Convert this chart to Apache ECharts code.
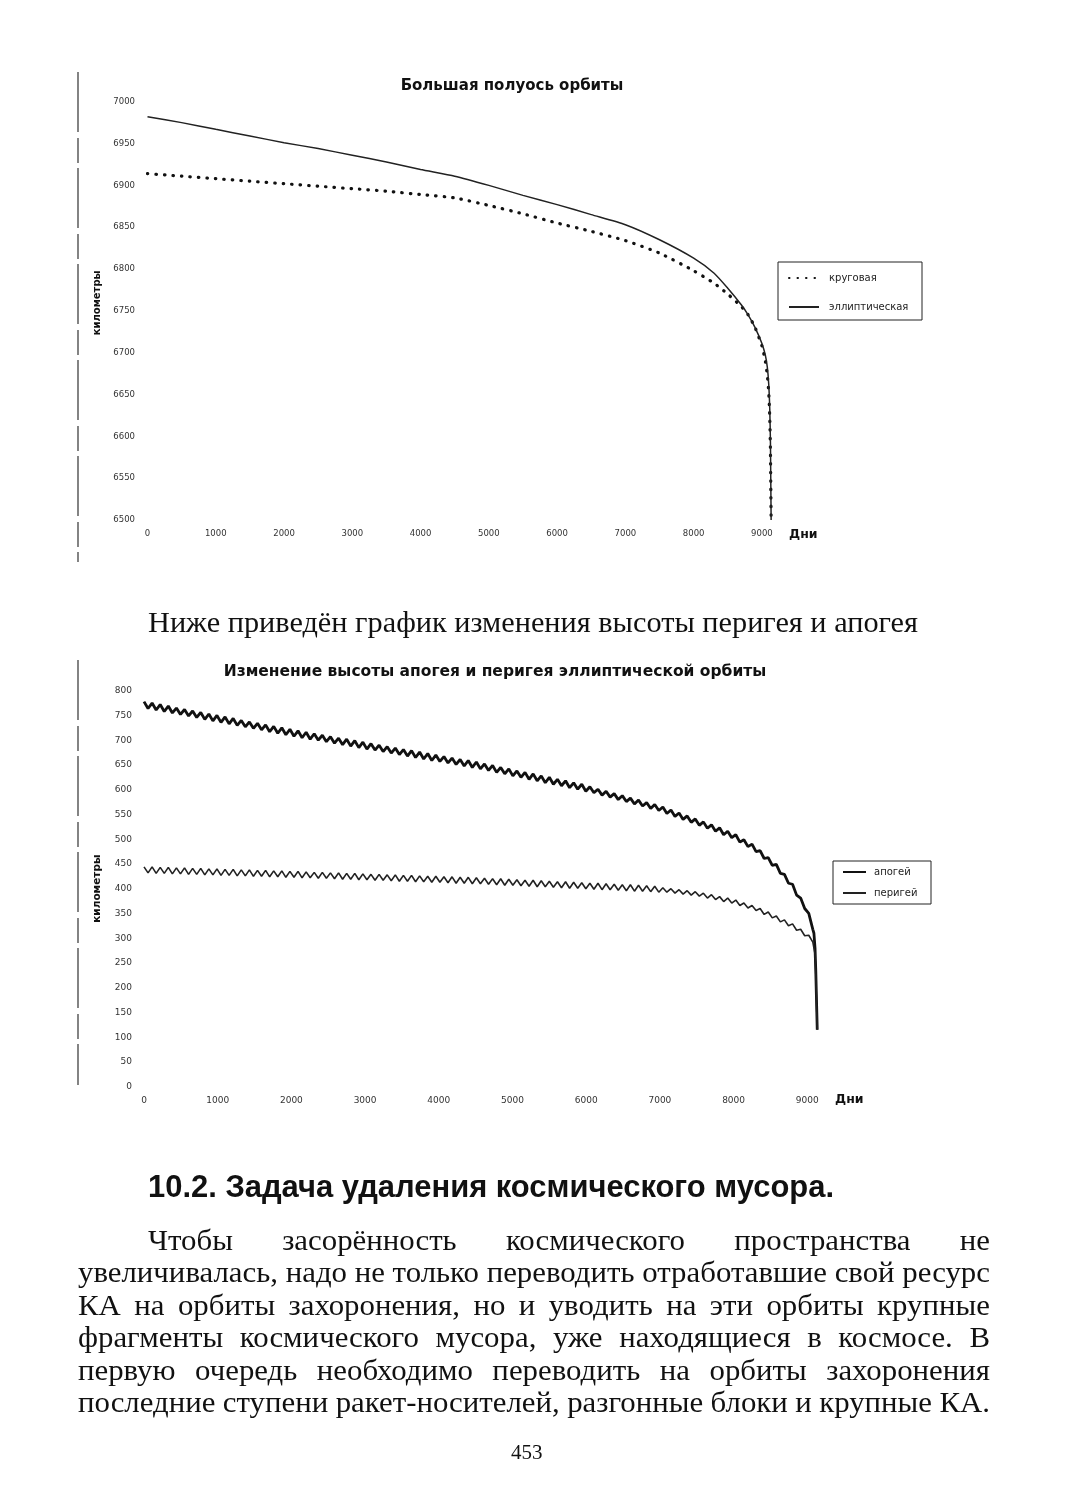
<!DOCTYPE html>
<html><head><meta charset="utf-8">
<script src="https://cdn.jsdelivr.net/npm/echarts@6/dist/echarts.min.js"></script>
<style>
html,body{margin:0;padding:0;background:#fff;}
#page{position:relative;width:1067px;height:1500px;overflow:hidden;background:#fff;}
#chart{position:absolute;left:0;top:0;width:1067px;height:1500px;}
.t{position:absolute;white-space:nowrap;color:#111;transform-origin:0 50%;}
.serif{font-family:"Liberation Serif","Times New Roman",serif;}
.para{position:absolute;display:flex;justify-content:space-between;font-family:"Liberation Serif","Times New Roman",serif;font-size:30px;line-height:32px;color:#111;white-space:nowrap;transform-origin:0 50%;}
</style></head><body><div id="page"><div id="chart"></div>
<div id="sent" class="t serif" style="left:148px;top:604px;font-size:30px;line-height:36px;">Ниже приведён график изменения высоты перигея и апогея</div>
<div id="head" class="t" style="left:148px;top:1169px;font-family:'Liberation Sans Narrow','Liberation Sans',Arial,sans-serif;font-weight:bold;font-size:31px;line-height:36px;">10.2. Задача удаления космического мусора.</div>
<div id="paraBox"></div>
<div class="t serif" style="left:511px;top:1440px;font-size:21px;line-height:24px;">453</div>
</div>
<script>
// ---- Chart 1: semi-major axis (km) vs days ----
const days1 = [0,500,1000,1500,2000,2500,3000,3500,4000,4500,5000,5500,6000,6500,7000,7500,8000,8300,8500,8700,8800,8900,9000,9050,9080,9100,9115,9125,9130,9135];
const elliptical = [6982,6975,6967,6959,6951,6944,6936,6928,6919,6911,6900,6888,6877,6865,6853,6835,6813,6795,6777,6757,6745,6730,6711,6697,6682,6662,6632,6592,6545,6500];
const circular = [6914,6911,6908,6905,6902,6899,6896,6893,6889,6885,6876,6866,6855,6845,6834,6819,6798,6783,6770,6755,6745,6730,6708,6690,6672,6652,6622,6582,6540,6500];

// ---- Chart 2: apogee / perigee height (km) vs days ----
const days2 = [0,55,110,165,220,275,330,385,440,495,550,605,660,715,770,825,880,935,990,1045,1100,1155,1210,1265,1320,1375,1430,1485,1540,1595,1650,1705,1760,1815,1870,1925,1980,2035,2090,2145,2200,2255,2310,2365,2420,2475,2530,2585,2640,2695,2750,2805,2860,2915,2970,3025,3080,3135,3190,3245,3300,3355,3410,3465,3520,3575,3630,3685,3740,3795,3850,3905,3960,4015,4070,4125,4180,4235,4290,4345,4400,4455,4510,4565,4620,4675,4730,4785,4840,4895,4950,5005,5060,5115,5170,5225,5280,5335,5390,5445,5500,5555,5610,5665,5720,5775,5830,5885,5940,5995,6050,6105,6160,6215,6270,6325,6380,6435,6490,6545,6600,6655,6710,6765,6820,6875,6930,6985,7040,7095,7150,7205,7260,7315,7370,7425,7480,7535,7590,7645,7700,7755,7810,7865,7920,7975,8030,8085,8140,8195,8250,8305,8360,8415,8470,8525,8580,8635,8690,8745,8800,8855,8910,8965,9020,9075,9090,9105,9115,9125,9135];
const apogee = [778,764,775,761,772,758,769,755,765,752,
762,749,759,746,756,742,753,739,750,736,
747,733,744,730,740,727,737,724,734,721,
731,717,728,714,725,711,722,
708,719,705,716,702,713,700,710,697,707,694,704,691,
702,688,699,685,696,682,693,680,690,677,
687,674,684,671,681,668,679,665,676,662,
673,659,670,657,667,654,664,651,661,648,659,645,656,
642,652,639,649,635,645,632,
642,628,638,625,635,621,632,618,628,614,
625,611,621,608,618,604,614,601,611,597,
606,594,601,589,597,585,592,580,588,576,
583,571,579,567,574,562,570,558,
565,552,559,546,553,540,547,534,541,528,535,522,529,516,523,509,516,503,
509,494,499,485,490,
475,477,461,463,447,449,
431,429,411,409,
387,381,360,350,318,
310,280,235,175,115];
const perigee = [444,432,444,431,443,431,443,430,442,430,
442,429,441,429,441,428,440,428,440,427,
439,427,439,426,438,426,438,425,437,425,
437,424,436,424,436,423,435,
423,435,422,434,422,433,421,433,421,432,420,432,419,
431,419,431,418,430,418,429,417,429,417,
428,416,428,415,427,415,427,414,426,414,
425,413,425,413,424,412,424,411,423,411,423,410,422,
410,421,409,420,408,420,407,
419,407,418,406,417,405,417,404,416,404,
415,403,414,402,414,401,413,401,412,400,
411,399,411,398,410,398,409,397,408,396,
408,395,407,395,406,394,405,393,
402,393,400,391,398,389,396,387,394,
385,391,381,388,378,384,374,381,371,
377,366,371,361,366,
356,360,348,353,341,345,
333,337,325,329,
316,318,305,306,292,
288,268,228,170,115];

const paraLines = [
 "Чтобы засорённость космического пространства не",
 "увеличивалась, надо не только переводить отработавшие свой ресурс",
 "КА на орбиты захоронения, но и уводить на эти орбиты крупные",
 "фрагменты космического мусора, уже находящиеся в космосе. В",
 "первую очередь необходимо переводить на орбиты захоронения",
 "последние ступени ракет-носителей, разгонные блоки и крупные КА."
];

// paragraph: scale so the densest line sets normally, others justified
const meas = document.createElement('span');
meas.style.cssText = 'position:absolute;left:0;top:0;visibility:hidden;white-space:nowrap;font-family:"Liberation Serif","Times New Roman",serif;font-size:30px;';
meas.textContent = paraLines[1];
document.body.appendChild(meas);
const natW = meas.getBoundingClientRect().width;
const pScale = 912 / natW;
const box = document.getElementById('paraBox');
paraLines.forEach((line, i) => {
  const div = document.createElement('div');
  div.className = 'para';
  div.style.top = (1224 + i * 32.4) + 'px';
  const left = i === 0 ? 148 : 78;
  const w = 990 - left;
  div.style.left = left + 'px';
  div.style.width = (w / pScale) + 'px';
  div.style.transform = 'scaleX(' + pScale + ')';
  line.split(' ').forEach(wd => { const s = document.createElement('span'); s.textContent = wd; div.appendChild(s); });
  box.appendChild(div);
});
function fit(id, target) {
  const el = document.getElementById(id);
  el.style.transform = 'none';
  const w = el.getBoundingClientRect().width;
  el.style.transform = 'scaleX(' + (target / w) + ')';
}
function fitAll() { fit('sent', 770); fit('head', 686); }
fitAll();
if (document.fonts && document.fonts.ready) document.fonts.ready.then(fitAll);

const FF = '"DejaVu Sans", Verdana, sans-serif';
const chart = echarts.init(document.getElementById('chart'), null, {renderer: 'canvas'});
const hidden = {show: false};
const plain = v => String(v);
function xAx(grid, fs, margin) {
  return {type: 'value', gridIndex: grid, min: 0, max: 9300, interval: 1000,
    axisLine: hidden, axisTick: hidden, splitLine: hidden,
    axisLabel: {showMaxLabel: false, formatter: plain, fontSize: fs, margin: margin, color: '#333', fontFamily: FF}};
}
const option = {
  animation: false,
  backgroundColor: '#fff',
  grid: [
    {left: 147.5, top: 101.7, width: 634.9, height: 418.3},
    {left: 144, top: 690.7, width: 685.4, height: 396}
  ],
  xAxis: [xAx(0, 8.5, 9), xAx(1, 9, 9.5)],
  yAxis: [
    {type: 'value', gridIndex: 0, min: 6500, max: 7000, interval: 50,
     name: 'километры', nameLocation: 'middle', nameGap: 44,
     nameTextStyle: {fontWeight: 'bold', fontSize: 10, fontFamily: FF, color: '#111', padding: [0, 0, 0, 16]},
     axisLine: hidden, axisTick: hidden, splitLine: hidden,
     axisLabel: {formatter: plain, fontSize: 8.5, margin: 12.5, color: '#333', fontFamily: FF}},
    {type: 'value', gridIndex: 1, min: 0, max: 800, interval: 50,
     name: 'километры', nameLocation: 'middle', nameGap: 41,
     nameTextStyle: {fontWeight: 'bold', fontSize: 10.5, fontFamily: FF, color: '#111'},
     axisLine: hidden, axisTick: hidden, splitLine: hidden,
     axisLabel: {formatter: plain, fontSize: 9, margin: 12, color: '#333', fontFamily: FF}}
  ],
  legend: [
    {data: ['круговая', 'эллиптическая'], orient: 'vertical', left: 788, top: 273,
     itemWidth: 30, itemHeight: 10, itemGap: 19, padding: 0, itemStyle: {opacity: 0},
     textStyle: {fontSize: 10, lineHeight: 10, color: '#222', fontFamily: FF, padding: [0, 0, 0, 5]}},
    {data: ['апогей', 'перигей'], orient: 'vertical', left: 842, top: 867,
     itemWidth: 23, itemHeight: 10, itemGap: 11, padding: 0, itemStyle: {opacity: 0},
     textStyle: {fontSize: 10, lineHeight: 10, color: '#222', fontFamily: FF, padding: [0, 0, 0, 3]}}
  ],
  graphic: [
    {type: 'text', style: {text: 'Большая полуось орбиты', x: 512, y: 86, align: 'center', verticalAlign: 'middle', textAlign: 'center', textVerticalAlign: 'middle', font: 'bold 15px ' + FF, fill: '#111'}},
    {type: 'text', style: {text: 'Изменение высоты апогея и перигея эллиптической орбиты', x: 495, y: 672, align: 'center', verticalAlign: 'middle', textAlign: 'center', textVerticalAlign: 'middle', font: 'bold 15.5px ' + FF, fill: '#111'}},
    {type: 'text', style: {text: 'Дни', x: 789, y: 535, align: 'left', verticalAlign: 'middle', textAlign: 'left', textVerticalAlign: 'middle', font: 'bold 12.5px ' + FF, fill: '#111'}},
    {type: 'text', style: {text: 'Дни', x: 835, y: 1100, align: 'left', verticalAlign: 'middle', textAlign: 'left', textVerticalAlign: 'middle', font: 'bold 12.5px ' + FF, fill: '#111'}},
    {type: 'rect', shape: {x: 778, y: 262, width: 144, height: 58}, style: {fill: 'none', stroke: '#222', lineWidth: 1}},
    {type: 'rect', shape: {x: 833, y: 861, width: 98, height: 43}, style: {fill: 'none', stroke: '#222', lineWidth: 1}},
    {type: 'line', shape: {x1: 78, y1: 72, x2: 78, y2: 562}, style: {stroke: '#333', lineWidth: 1.2, lineDash: [60, 6, 25, 5]}},
    {type: 'line', shape: {x1: 78, y1: 660, x2: 78, y2: 1085}, style: {stroke: '#333', lineWidth: 1.2, lineDash: [60, 6, 25, 5]}}
  ],
  series: [
    {type: 'line', name: 'круговая', xAxisIndex: 0, yAxisIndex: 0,
     data: days1.map((d, i) => [d, circular[i]]), symbol: 'none', smooth: 0.2,
     itemStyle: {color: '#111'}, lineStyle: {color: '#111', width: 3.2, type: [0.5, 8], cap: 'round'}},
    {type: 'line', name: 'эллиптическая', xAxisIndex: 0, yAxisIndex: 0,
     data: days1.map((d, i) => [d, elliptical[i]]), symbol: 'none', smooth: 0.2,
     itemStyle: {color: '#222'}, lineStyle: {color: '#222', width: 1.5}},
    {type: 'line', name: 'апогей', xAxisIndex: 1, yAxisIndex: 1,
     data: days2.map((d, i) => [d, apogee[i]]), symbol: 'none',
     itemStyle: {color: '#111'}, lineStyle: {color: '#111', width: 2.8}},
    {type: 'line', name: 'перигей', xAxisIndex: 1, yAxisIndex: 1,
     data: days2.map((d, i) => [d, perigee[i]]), symbol: 'none',
     itemStyle: {color: '#222'}, lineStyle: {color: '#222', width: 1.6}}
  ]
};
chart.setOption(option);
</script>
</body></html>
